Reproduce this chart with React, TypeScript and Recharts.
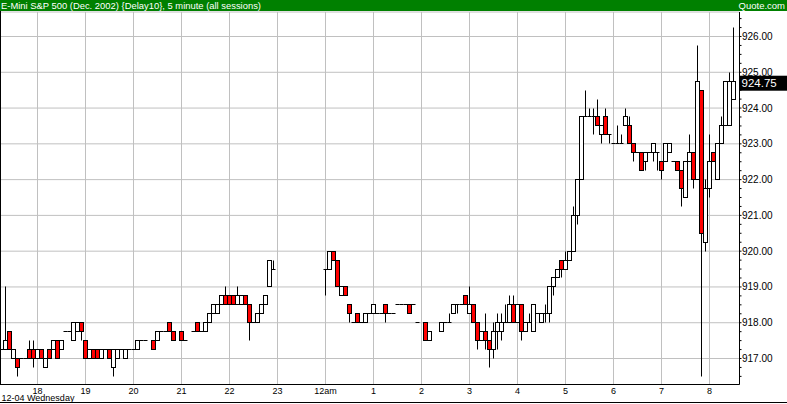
import React from 'react';
import { ComposedChart, Bar, XAxis, YAxis, CartesianGrid } from 'recharts';

const FONT = '"Liberation Sans", Arial, sans-serif';
const W = 787;
const H = 404;

// 5 minute bars from 17:15 to 08:30, null = no trade in that slot
const opens: (number | null)[] = [
  // 17:15 - 17:55
  917.25, 917.25, 917.75, 917, 917, 917, 917, 917.25, 917.25,
  // 18
  917, 917.25, 916.75, 917.25, 917.25, 917.5, 917.25, 917.75, 917.75, 917.5, 917.75, 918,
  // 19
  917.5, 917, 917.25, 917.25, 917, 917.25, 917.25, 916.75, 917, 917.25, 917, 917.25,
  // 20
  917.25, 917.25, 917.5, 917.5, null, 917.5, 917.5, 917.75, 917.75, 918, 917.75, null,
  // 21
  917.75, 917.5, null, 917.75, 918, 917.75, 917.75, 918, 918.25, 918.25, 918.5, 918.75,
  // 22
  918.75, 918.75, 918.5, 918.5, 918.75, 918.5, 918, 918, 918.25, 918.5, 919, 919.5,
  // 23
  null, null, null, null, null, null, null, null, null, null, null, null,
  // 12am
  919.5, 919.5, 920, 919.75, 918.75, 919, 918.5, 918, 918.25, 918, 918, 918.25,
  // 1
  918.25, 918.25, 918.25, 918.5, 918.25, 918.25, 918.5, 918.5, 918.5, 918.5, 918.5, 918,
  // 2
  null, 918, 917.5, null, null, 917.75, 918, 918, 918.25, 918.5, 918.5, 918.75,
  // 3
  918.25, 918.5, 918, 917.5, 917.75, 917.5, 917.25, 917.75, 917.75, 918, 918, 918.5,
  // 4
  918, 918.5, 917.75, 918, 917.75, 918.25, 918, 918.25, 918.25, 919, 919.25, 919.75,
  // 5
  919.5, 919.75, 920, 921, 922, 923.75, 923.75, 923.75, 923.75, 923.25, 923.75, 923.25,
  // 6
  923, 923, 923, 923.5, 923.5, 923, 922.75, 922.75, 922.5, 922.75, 922.75, 922.75,
  // 7
  922.5, 922.5, 922.75, 922.5, 922.5, 922.25, 921.5, 922.5, 922.75, 922, 924.5, 920.25,
  // 8
  921.75, 922.75, 922, 923, 923.5, 923.5, 924.25, null,
];

const highs: (number | null)[] = [
  917.25, 919, 917.75, 917.25, 917, 917, 917, 917.5, 917.5,
  917.25, 917.25, 917, 917.25, 917.5, 917.5, 917.5, 917.75, 917.75, 918, 918, 918,
  917.5, 917.25, 917.25, 917.25, 917.25, 917.25, 917.25, 917.25, 917.25, 917.25, 917.25, 917.25,
  917.25, 917.5, 917.5, 917.5, null, 917.5, 917.75, 917.75, 917.75, 918, 917.75, null,
  917.75, 917.5, null, 917.75, 918, 917.75, 918, 918.25, 918.5, 918.5, 918.75, 919,
  918.75, 918.75, 919, 918.75, 918.75, 918.5, 918, 918.25, 918.5, 918.75, 919.75, 919.75,
  null, null, null, null, null, null, null, null, null, null, null, null,
  919.5, 920, 920, 919.75, 919, 919, 918.5, 918, 918.25, 918, 918.25, 918.25,
  918.5, 918.25, 918.25, 918.5, 918.25, 918.25, 918.5, 918.5, 918.5, 918.5, 918.5, 918,
  null, 918, 917.75, null, null, 918, 918, 918.25, 918.5, 918.5, 918.5, 918.75,
  919, 918.5, 918, 917.75, 918.25, 917.5, 918, 918.25, 918.25, 918.5, 918.75, 918.75,
  918.5, 918.5, 918, 918.25, 918.5, 918.25, 918.25, 918.5, 919, 919.25, 919.5, 919.75,
  920, 920, 921.25, 922, 923.75, 924.5, 924, 924, 924.25, 923.5, 924, 923.25,
  923, 923.5, 923.25, 924, 923.75, 923, 922.75, 922.75, 922.75, 922.75, 923, 922.75,
  922.5, 923, 923, 922.5, 922.5, 922.25, 922.5, 923.25, 922.75, 925.75, 924.5, 922,
  923.25, 922.75, 923, 923.75, 924.75, 925, 926.25, null,
];

const lows: (number | null)[] = [
  917.25, 917.25, 917.25, 917, 916.5, 917, 917, 917, 916.75,
  917, 917, 916.75, 917, 917.25, 917, 917.25, 917.75, 917.75, 917.5, 917.75, 917.5,
  917, 917, 917, 917, 917, 917.25, 917, 916.5, 917, 917.25, 917, 917.25,
  917.25, 917.25, 917.5, 917.5, null, 917.25, 917.5, 917.75, 917.75, 917.75, 917.5, null,
  917.5, 917.5, null, 917.75, 917.75, 917.75, 917.75, 918, 918.25, 918.25, 918.5, 918.5,
  918.5, 918.5, 918.5, 918.5, 918.5, 917.5, 918, 918, 918.25, 918.5, 919, 919.5,
  null, null, null, null, null, null, null, null, null, null, null, null,
  918.75, 919.5, 919.75, 919, 918.75, 918.75, 918, 918, 918, 918, 918, 918.25,
  918.25, 918.25, 918.25, 918, 918.25, 918.25, 918.5, 918.5, 918.5, 918.25, 918.5, 918,
  null, 917.5, 917.5, null, null, 917.75, 918, 918, 918.25, 918.25, 918.5, 918.5,
  918.25, 918, 917.25, 917.5, 917.25, 916.75, 917, 917.25, 917.5, 918, 918, 918,
  918, 917.5, 917.75, 918, 917.75, 918.25, 918, 918, 918, 918.75, 919.25, 919.25,
  919.5, 919.75, 920, 920.75, 922, 923.75, 923.75, 923.25, 923.5, 923, 923.25, 923,
  923, 923, 923, 923.5, 923, 922.5, 922.75, 922.25, 922.25, 922.75, 922.5, 922.25,
  922, 922.5, 922.75, 922.5, 922.25, 921.25, 921.5, 922.5, 921.75, 922, 916.5, 920,
  921.5, 922.5, 922, 923, 923.5, 923.5, 924.25, null,
];

const closes: (number | null)[] = [
  917.25, 917.5, 917.25, 917.25, 916.75, 917, 917, 917, 917,
  917.25, 917, 917, 917, 917.5, 917, 917.5, 917.75, 917.75, 918, 918, 917.75,
  917, 917.25, 917, 917, 917.25, 917.25, 917, 917.25, 917.25, 917.25, 917.25, 917.25,
  917.25, 917.5, 917.5, 917.5, null, 917.25, 917.75, 917.75, 917.75, 917.75, 917.5, null,
  917.5, 917.5, null, 917.75, 917.75, 917.75, 918, 918.25, 918.5, 918.5, 918.75, 918.5,
  918.5, 918.5, 918.75, 918.75, 918.5, 918, 918, 918.25, 918.5, 918.75, 919.75, 919.5,
  null, null, null, null, null, null, null, null, null, null, null, null,
  919.5, 920, 919.75, 919, 919, 918.75, 918.25, 918, 918, 918, 918.25, 918.25,
  918.5, 918.25, 918.25, 918.25, 918.25, 918.25, 918.5, 918.5, 918.5, 918.25, 918.5, 918,
  null, 917.5, 917.75, null, null, 918, 918, 918, 918.5, 918.5, 918.5, 918.5,
  918.5, 918, 917.5, 917.75, 917.5, 917.25, 917.75, 918, 918, 918, 918.5, 918,
  918.5, 917.75, 918, 918, 918.5, 918.25, 918.25, 918.25, 919, 919.25, 919.5, 919.5,
  919.75, 920, 921, 922, 923.75, 923.75, 923.75, 923.75, 923.5, 923.5, 923.25, 923.25,
  923, 923, 923, 923.75, 923, 922.75, 922.75, 922.25, 922.75, 922.75, 923, 922.75,
  922.25, 923, 923, 922.5, 922.25, 921.75, 922.5, 922.75, 922, 924.75, 920.5, 921.75,
  922.5, 922.5, 923, 923.5, 924.75, 924.75, 924.75, null,
];

const hourTicks = ['18:00', '19:00', '20:00', '21:00', '22:00', '23:00', '00:00', '01:00', '02:00', '03:00', '04:00', '05:00', '06:00', '07:00', '08:00'];
const hourLabels = ['18', '19', '20', '21', '22', '23', '12am', '1', '2', '3', '4', '5', '6', '7', '8'];
const priceTicks = [917, 918, 919, 920, 921, 922, 923, 924, 925, 926];
const priceDomain = [916.2733, 926.6847];

// slot labels, 5 minutes apart starting 17:15
const slotTimes = opens.map((_, i) => {
  const m = (17 * 60 + 15 + 5 * i) % 1440;
  return `${String(Math.floor(m / 60)).padStart(2, '0')}:${String(m % 60).padStart(2, '0')}`;
});
const quarterHourTicks = slotTimes.filter((_, i) => i % 3 === 0);
const quarterPriceTicks: number[] = [];
for (let p = 916.5; p <= 926.5; p += 0.25) quarterPriceTicks.push(p);

const lastClose = [...closes].reverse().find((v) => v != null) as number;

const data = slotTimes.map((t, i) => ({
  t,
  o: opens[i],
  h: highs[i],
  l: lows[i],
  c: closes[i],
  range: opens[i] == null ? null : [lows[i], highs[i]],
}));

const Candle = (props: any) => {
  const { x, y, width, height, payload } = props;
  if (!payload || payload.o == null) return <g />;
  const { o, h, l, c } = payload;
  const top = Math.min(y, y + height);
  const bot = Math.max(y, y + height);
  const span = h - l;
  const py = (v: number) => Math.floor(span > 0 ? top + ((h - v) / span) * (bot - top) : top) + 0.5;
  const left = Math.floor(x) + 0.5;
  const w = Math.round(width);
  const mid = left + Math.floor(w / 2);
  const bTop = py(Math.max(o, c));
  const bBot = py(Math.min(o, c));
  return (
    <g>
      {span > 0 && <line x1={mid} x2={mid} y1={py(h)} y2={py(l)} stroke="#000" strokeWidth={1} />}
      {bBot > bTop ? (
        <rect x={left} y={bTop} width={w} height={bBot - bTop} fill={c < o ? '#ff0000' : '#ffffff'} stroke="#000" strokeWidth={1} />
      ) : (
        <line x1={left} x2={left + w} y1={bTop} y2={bTop} stroke="#000" strokeWidth={1} />
      )}
    </g>
  );
};

const HourTick = (props: any) => {
  const { x, y, payload } = props;
  const idx = hourTicks.indexOf(payload.value);
  return (
    <text x={x} y={y + 9} textAnchor="middle" fontSize={9} fontFamily={FONT} fill="#000">
      {idx >= 0 ? hourLabels[idx] : ''}
    </text>
  );
};

const PriceTick = (props: any) => {
  const { x, y, payload } = props;
  return (
    <text x={x + 0.5} y={y + 3.5} textAnchor="start" fontSize={10} fontFamily={FONT} fill="#000">
      {Number(payload.value).toFixed(2)}
    </text>
  );
};

const LastPriceTick = (props: any) => {
  const { x, y, payload } = props;
  if (Math.abs(payload.value - lastClose) > 1e-6) return <g />;
  return (
    <g>
      <rect x={x - 1.5} y={y - 5.5} width={W - x + 1.5} height={15} fill="#000" />
      <text x={x} y={y + 6} textAnchor="start" fontSize={11.5} fontFamily={FONT} fill="#fff">
        {lastClose.toFixed(2)}
      </text>
    </g>
  );
};

export default function App() {
  return (
    <div style={{ position: 'relative', width: W, height: H, background: '#fff', overflow: 'hidden' }}>
      <style>{'body{margin:0}'}</style>
      <ComposedChart
        width={W}
        height={H}
        data={data}
        margin={{ top: 12, right: 0, bottom: 0, left: -0.5 }}
        barCategoryGap={0}
        barGap={0}
      >
        <CartesianGrid stroke="#c0c0c0" strokeWidth={1} yAxisId="b_price" />
        <XAxis
          dataKey="t"
          ticks={hourTicks}
          interval={0}
          height={19.5}
          tickSize={0}
          tickMargin={0}
          tickLine={false}
          axisLine={{ stroke: '#000' }}
          tick={<HourTick />}
        />
        <XAxis
          xAxisId="topTicks"
          orientation="top"
          mirror
          dataKey="t"
          ticks={quarterHourTicks}
          interval={0}
          tick={false}
          tickSize={3}
          axisLine={false}
          tickLine={{ stroke: '#000' }}
        />
        <XAxis
          xAxisId="bottomTicks"
          orientation="bottom"
          mirror
          dataKey="t"
          ticks={quarterHourTicks}
          interval={0}
          tick={false}
          tickSize={2}
          axisLine={false}
          tickLine={{ stroke: '#000' }}
        />
        <YAxis
          yAxisId="a_quarter"
          orientation="right"
          type="number"
          width={2}
          domain={priceDomain}
          allowDataOverflow
          ticks={quarterPriceTicks}
          interval={0}
          tickSize={2}
          tickMargin={0}
          axisLine={{ stroke: '#000' }}
          tickLine={{ stroke: '#000' }}
          tick={<LastPriceTick />}
        />
        <YAxis
          yAxisId="b_price"
          orientation="right"
          type="number"
          width={45.5}
          domain={priceDomain}
          allowDataOverflow
          ticks={priceTicks}
          interval={0}
          tickSize={0}
          tickMargin={0}
          axisLine={false}
          tickLine={false}
          tick={<PriceTick />}
        />
        <Bar dataKey="range" yAxisId="b_price" isAnimationActive={false} shape={<Candle />} />
      </ComposedChart>
      <svg width={W} height={H} style={{ position: 'absolute', left: 0, top: 0, pointerEvents: 'none' }}>
        <rect x={0} y={0} width={W} height={11} fill="#008000" />
        <text x={1} y={9} fontSize={9.5} fontFamily={FONT} fill="#fff" textLength={260} lengthAdjust="spacingAndGlyphs">
          E-Mini S&amp;P 500 (Dec. 2002) {'{'}Delay10{'}'}, 5 minute (all sessions)
        </text>
        <text x={785} y={9} fontSize={9.5} fontFamily={FONT} fill="#fff" textAnchor="end">
          Quote.com
        </text>
        <line x1={0.5} x2={0.5} y1={11} y2={384.5} stroke="#000" />
        <line x1={0} x2={W} y1={402.5} y2={402.5} stroke="#000" />
        <text x={1.5} y={401} fontSize={9} fontFamily={FONT} fill="#000">
          12-04 Wednesday
        </text>
      </svg>
    </div>
  );
}
